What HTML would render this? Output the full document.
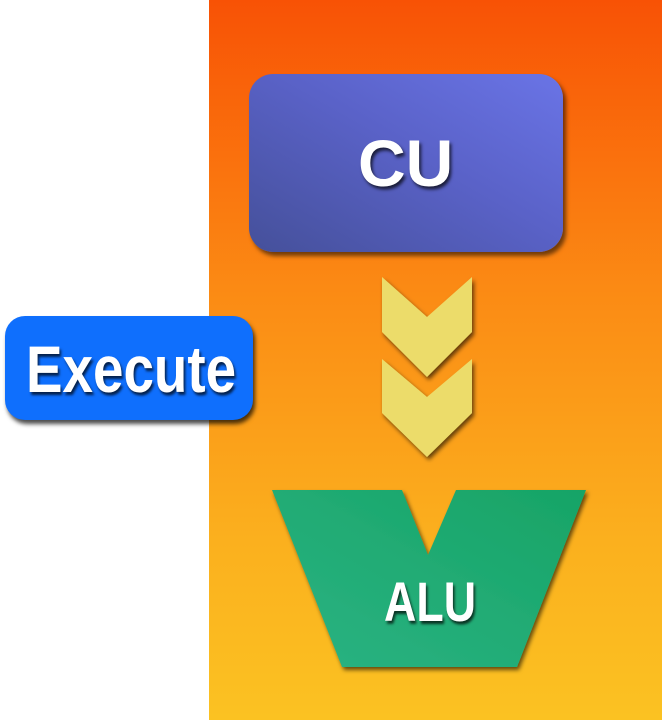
<!DOCTYPE html>
<html><head><meta charset="utf-8"><style>
html,body{margin:0;padding:0;}
body{width:662px;height:720px;position:relative;overflow:hidden;background:#fff;font-family:"Liberation Sans",sans-serif;}
.bg{position:absolute;left:209px;top:0;width:453px;height:720px;background:linear-gradient(180deg,#f85205 0%,#fb8a14 40%,#fbb01e 75%,#fbc222 100%);}
.cu{position:absolute;left:249px;top:74px;width:314px;height:178px;border-radius:24px;background:linear-gradient(30deg,#45509a 0%,#5a62c8 55%,#6a74e6 100%);box-shadow:3px 4px 4px rgba(0,0,0,0.55);}
.lbl{position:absolute;color:#fff;font-weight:bold;text-shadow:2px 3px 3px rgba(0,0,0,0.7);white-space:nowrap;}
.ex{position:absolute;left:5px;top:316px;width:248px;height:104px;border-radius:20px;background:#0f6ffd;box-shadow:2px 4px 4px rgba(0,0,0,0.7);}
svg{position:absolute;left:0;top:0;}
</style></head><body>
<div class="bg"></div>
<div class="cu"></div>
<div class="lbl" style="left:358px;top:126px;font-size:66px;line-height:74px;">CU</div>
<div class="ex"></div>
<div class="lbl" style="left:26px;top:332px;font-size:66px;line-height:74px;transform:scaleX(0.83);transform-origin:left top;">Execute</div>
<svg width="662" height="720">
<defs>
<filter id="sh" x="-20%" y="-20%" width="140%" height="140%"><feDropShadow dx="2" dy="3" stdDeviation="2" flood-color="#000" flood-opacity="0.6"/></filter>
<linearGradient id="g" x1="0" y1="1" x2="1" y2="0"><stop offset="0" stop-color="#2bb383"/><stop offset="1" stop-color="#17a466"/></linearGradient>
</defs>
<polygon filter="url(#sh)" fill="#ecdc6a" points="382,277 427,317 472,277 472,332 427,377 382,332"/>
<polygon filter="url(#sh)" fill="#ecdc6a" points="382,359 427,397 472,359 472,413 427,457 382,413"/>
<polygon filter="url(#sh)" fill="url(#g)" points="272,490 402,490 428,555 456,490 586,490 517,667 342,667"/>
</svg>
<div class="lbl" style="left:384px;top:572px;font-size:56px;line-height:60px;transform:scaleX(0.8);transform-origin:left top;">ALU</div>
</body></html>
